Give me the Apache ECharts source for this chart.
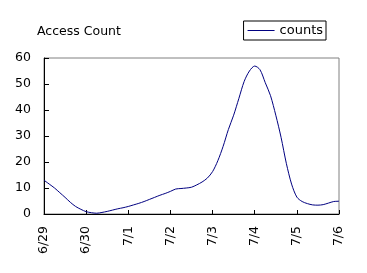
<!DOCTYPE html>
<html>
<head>
<meta charset="utf-8">
<script src="https://cdn.jsdelivr.net/npm/echarts@6/dist/echarts.min.js"></script>
<style>html,body{margin:0;padding:0;background:#fff;}#c{width:367px;height:273px;}</style>
</head>
<body>
<div id="c"></div>
<script>
// x positions in days since 6/29 (3-hour steps)
const dayOffsets = [0,0.125,0.25,0.375,0.5,0.625,0.75,0.875,1,1.125,1.25,1.375,1.5,1.625,1.75,1.875,2,2.125,2.25,2.375,2.5,2.625,2.75,2.875,3,3.125,3.25,3.375,3.5,3.625,3.75,3.875,4,4.125,4.25,4.375,4.5,4.625,4.75,4.875,5,5.125,5.25,5.375,5.5,5.625,5.75,5.875,6,6.125,6.25,6.375,6.5,6.625,6.75,6.875,7];
const counts = [13.0,11.5,10.0,8.2,6.4,4.5,2.9,1.8,0.9,0.5,0.3,0.6,1.0,1.5,2.0,2.4,2.9,3.5,4.1,4.8,5.6,6.4,7.2,7.9,8.7,9.6,9.8,10.0,10.3,11.2,12.3,13.8,16.3,20.5,26.0,32.5,38.0,44.5,51.0,55.0,56.9,55.5,50.5,45.5,38.0,29.5,19.5,11.5,6.5,4.8,4.0,3.5,3.4,3.6,4.2,4.8,4.9];
const dateLabels = ['6/29','6/30','7/1','7/2','7/3','7/4','7/5','7/6'];
const yTicks = [0,10,20,30,40,50,60];

const font = '"DejaVu Sans", sans-serif';
const chart = echarts.init(document.getElementById('c'));
chart.setOption({
  animation: false,
  backgroundColor: '#fff',
  title: {
    text: 'Access Count', left: 32, top: 20,
    textStyle: {fontFamily: font, fontSize: 12.5, fontWeight: 'normal', color: '#000'}
  },
  legend: {
    right: 41, top: 21,
    data: [{name: 'counts', icon: 'rect'}],
    itemWidth: 27, itemHeight: 1, itemGap: 4,
    borderColor: '#000', borderWidth: 1, padding: [3, 3, 3, 4],
    textStyle: {fontFamily: font, fontSize: 13, color: '#000'}
  },
  grid: {
    left: 44, right: 28, top: 58, bottom: 59,
    show: true, borderColor: '#808080', borderWidth: 1, backgroundColor: 'transparent'
  },
  xAxis: {
    type: 'value', min: 0, max: dateLabels.length - 1, interval: 1,
    axisLine: {lineStyle: {color: '#000', width: 1}},
    axisTick: {inside: true, length: 4, lineStyle: {color: '#000'}},
    splitLine: {show: false},
    axisLabel: {
      rotate: 90, margin: 12, color: '#000', fontFamily: font, fontSize: 12.5,
      formatter: v => dateLabels[Math.round(v)]
    }
  },
  yAxis: {
    type: 'value', min: yTicks[0], max: yTicks[yTicks.length - 1], interval: 10,
    axisLine: {show: true, lineStyle: {color: '#000', width: 1}},
    axisTick: {show: true, inside: true, length: 5, lineStyle: {color: '#000'}},
    splitLine: {show: false},
    axisLabel: {margin: 13, color: '#000', fontFamily: font, fontSize: 12.5}
  },
  series: [{
    name: 'counts', type: 'line',
    data: dayOffsets.map((d, i) => [d, counts[i]]),
    smooth: 0.3, showSymbol: false, symbol: 'none',
    lineStyle: {color: '#000080', width: 1},
    itemStyle: {color: '#000080'}
  }]
});
</script>
</body>
</html>
